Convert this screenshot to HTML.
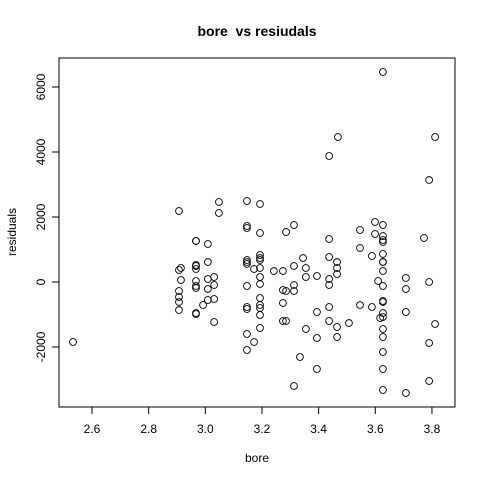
<!DOCTYPE html>
<html><head><meta charset="utf-8"><style>
body{margin:0;background:#fff}
svg text{font-family:"Liberation Sans",Arial,sans-serif;fill:#000}
</style></head><body>
<svg id="chart" width="480" height="480" viewBox="0 0 480 480" xmlns="http://www.w3.org/2000/svg">
<rect width="480" height="480" fill="#fff"/>
<text x="257" y="36" text-anchor="middle" font-size="14" font-weight="bold" style="white-space:pre">bore  vs resiudals</text>
<rect x="59" y="58" width="396" height="349" fill="none" stroke="#000" stroke-width="1"/>
<text x="257" y="462" text-anchor="middle" font-size="12">bore</text>
<text transform="translate(16,232) rotate(-90)" text-anchor="middle" font-size="12">residuals</text>
<g id="axes"></g>
<g id="points"></g>
</svg>
<script>
const xTicks=[2.6,2.8,3.0,3.2,3.4,3.6,3.8];
const xTickLabels=["2.6","2.8","3.0","3.2","3.4","3.6","3.8"];
const yTicks=[-2000,0,2000,4000,6000];
const yTickLabels=["-2000","0","2000","4000","6000"];
const bore=[2.533,
2.907,2.907,2.907,2.907,2.907,2.907,2.914,2.914,
2.967,2.967,2.967,2.967,2.967,2.967,2.967,2.967,2.967,2.967,
3.009,3.009,3.009,3.009,3.009,
3.031,3.031,3.031,3.031,2.992,3.048,3.048,
3.147,3.147,3.147,3.147,3.147,3.147,3.147,3.147,3.147,3.147,3.147,
3.172,3.172,
3.193,3.193,3.193,3.193,3.193,3.193,3.193,3.193,3.193,3.193,3.193,3.193,3.193,
3.242,3.274,3.274,3.274,3.274,3.285,3.285,3.285,
3.313,3.313,3.313,3.313,3.313,3.334,3.345,3.355,3.355,3.355,
3.394,3.394,3.394,3.394,
3.437,3.437,3.437,3.437,3.437,3.437,3.437,
3.465,3.465,3.465,3.465,3.465,3.468,3.507,3.546,3.546,3.546,
3.588,3.588,3.599,3.599,3.610,3.617,
3.627,3.627,3.627,3.627,3.627,3.627,3.627,3.627,3.627,3.627,3.627,3.627,3.627,3.627,3.627,3.627,3.627,3.627,3.627,
3.708,3.708,3.708,3.708,3.772,3.790,3.790,3.790,3.790,3.811,3.811];
const residuals=[-1846,
2185,369,-277,-461,-615,-862,431,62,
1262,1262,523,492,400,31,-123,-185,-954,-985,
1169,615,92,-215,-554,
154,-92,-523,-1231,-708,2462,2123,
2492,1723,1662,677,615,554,-123,-769,-831,-1600,-2092,
400,-1846,
2400,1508,831,738,677,431,154,-62,-492,-708,-800,-1015,-1415,
338,338,-246,-646,-1200,1538,-277,-1200,
1754,492,-92,-277,-3200,-2308,738,431,154,-1446,
185,-923,-1723,-2677,
3877,1323,769,92,-92,-769,-1200,
615,431,246,-1385,-1692,4462,-1262,1600,1046,-708,
800,-769,1846,1477,31,-1108,
6462,1754,1415,1292,1231,862,615,615,338,-123,-585,-615,-954,-1077,-1446,-1692,-2154,-2677,-3323,
123,-215,-923,-3415,1354,3138,0,-1877,-3046,4462,-1292];
const NS='http://www.w3.org/2000/svg';
function xs(v){return 92+(v-2.6)*283.3;}
function ys(v){return 282-v/30.77;}
const ax=document.getElementById('axes');
function mk(t,a){const e=document.createElementNS(NS,t);for(const k in a)e.setAttribute(k,a[k]);return e;}
const xl=mk('line',{x1:xs(2.6),x2:xs(3.8),y1:407,y2:407,stroke:'#000'});


ax.appendChild(xl);
xTicks.forEach((t,i)=>{
 const l=mk('line',{x1:xs(t),x2:xs(t),y1:407,y2:414,stroke:'#000'});
 
 
 ax.appendChild(l);
 const tx=mk('text',{x:xs(t),y:433,'text-anchor':'middle','font-size':12});
 tx.textContent=xTickLabels[i];
 
 
 ax.appendChild(tx);
});
const yl=mk('line',{x1:59,x2:59,y1:ys(-2000),y2:ys(6000),stroke:'#000'});


ax.appendChild(yl);
yTicks.forEach((t,i)=>{
 const l=mk('line',{x1:52,x2:59,y1:ys(t),y2:ys(t),stroke:'#000'});
 
 
 ax.appendChild(l);
 const tx=mk('text',{transform:`translate(45,${ys(t)}) rotate(-90)`,'text-anchor':'middle','font-size':12});
 tx.textContent=yTickLabels[i];
 
 
 ax.appendChild(tx);
});
const pg=document.getElementById('points');
bore.forEach((b,i)=>{
 const c=mk('circle',{cx:xs(b),cy:ys(residuals[i]),r:3.4,fill:'none',stroke:'#000','stroke-width':0.9});
 
 
 pg.appendChild(c);
});
</script>
</body></html>
